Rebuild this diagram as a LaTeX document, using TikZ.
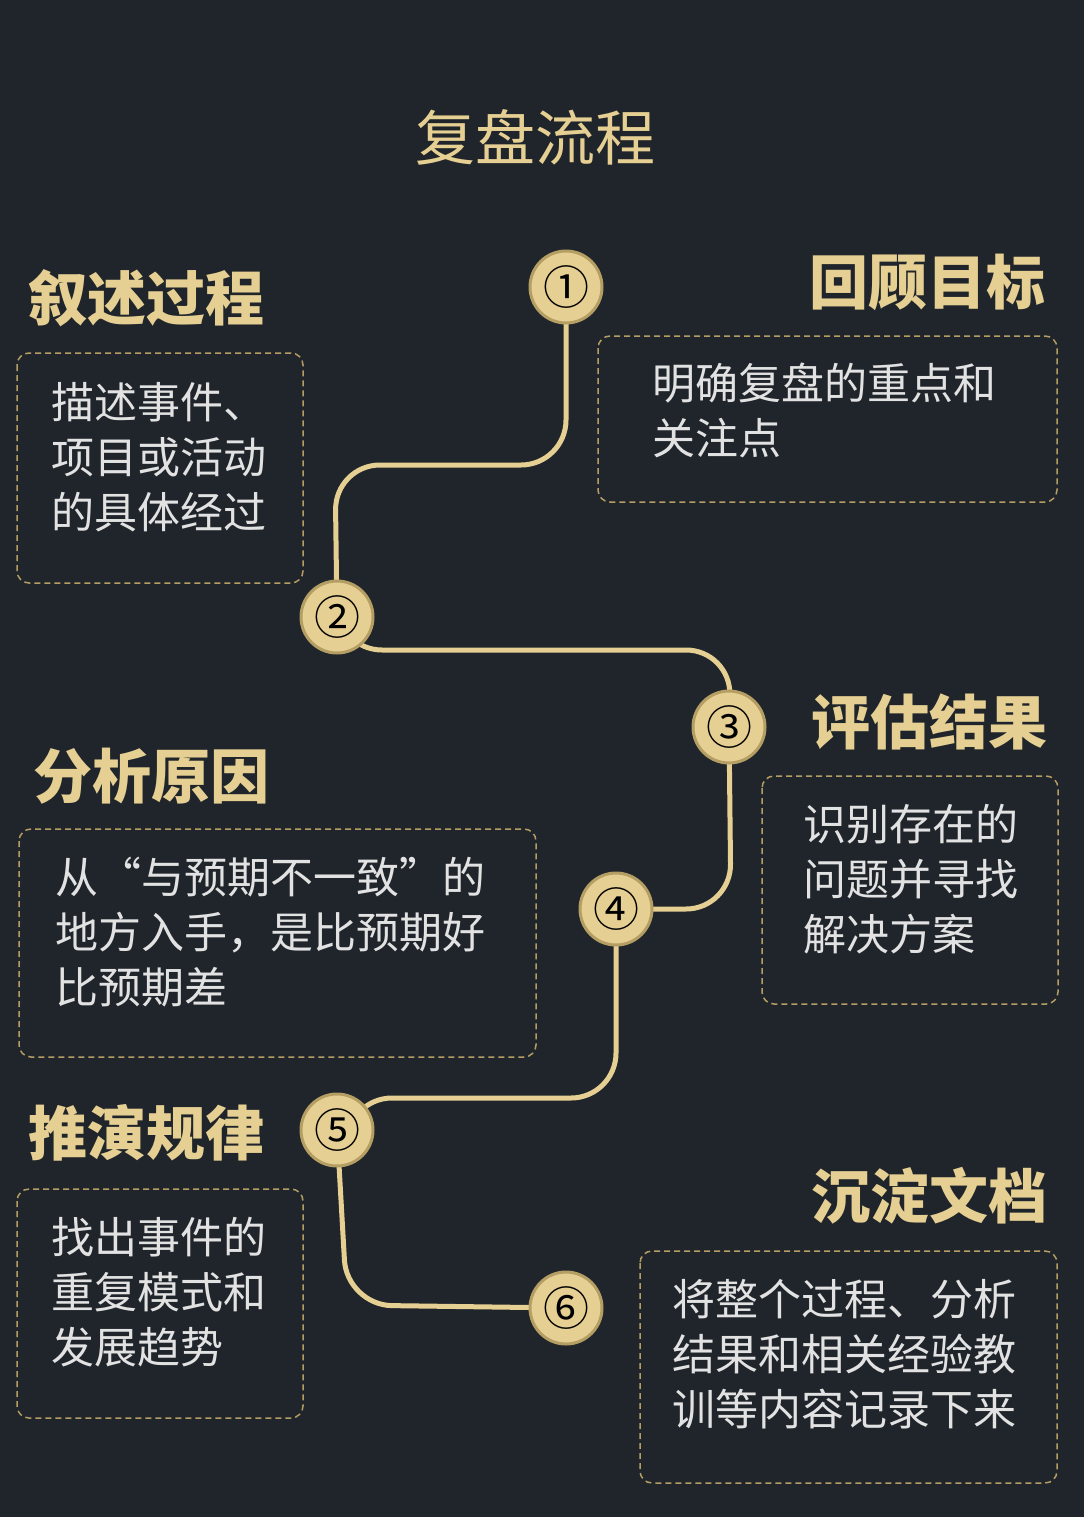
\documentclass[tikz,border=0pt]{standalone}
\usepackage{fontspec}
\setmainfont{Noto Sans CJK SC}
\definecolor{bg}{HTML}{1F252B}
\definecolor{gold}{HTML}{E6CF93}
\definecolor{golddk}{HTML}{B59E63}
\definecolor{txt}{HTML}{E2E2E2}
\tikzset{
 num/.style={circle,fill=gold,draw=golddk,line width=3pt,minimum size=72pt,inner sep=0pt,font=\fontsize{46}{46}\selectfont,text=black},
 head/.style={text=gold,font=\fontsize{59}{59}\selectfont\bfseries,inner sep=0pt},
 box/.style={draw=golddk,dash pattern=on 6pt off 4pt,line width=1.5pt,rounded corners=12pt},
 body/.style={text=txt,font=\fontsize{43}{55}\selectfont,align=left,anchor=north west,inner sep=0pt},
 path/.style={draw=gold,line width=5pt,rounded corners=45pt}
}
\begin{document}
\begin{tikzpicture}[x=1pt,y=-1pt]
\fill[bg] (0,0) rectangle (1084,1517);
\useasboundingbox (0,0) rectangle (1084,1517);
\node[text=gold,font=\fontsize{60}{60}\selectfont,inner sep=0pt] (title) at (535,137) {复盘流程};
\coordinate (p1) at (566,287);
\coordinate (p2) at (337,617);
\coordinate (p3) at (729,727);
\coordinate (p4) at (616,909);
\coordinate (p5) at (337,1130);
\coordinate (p6) at (566,1308);
\draw[path] (p1) -- (566,465) -- (335,465) -- (p2);
\draw[path] (p2) -- (337,650) -- (731,650) -- (p3);
\draw[path] (p3) -- (731,909) -- (p4);
\draw[path] (p4) -- (616,1098) -- (347,1098) -- (347,1130);
\draw[path] (p5) -- (347,1305) -- (p6);
\node[num] (n1) at (p1) {①};
\node[num] (n2) at (p2) {②};
\node[num] (n3) at (p3) {③};
\node[num] (n4) at (p4) {④};
\node[num] (n5) at (p5) {⑤};
\node[num] (n6) at (p6) {⑥};
\draw[box] (598,336) rectangle (1057,502);
\draw[box] (17,353) rectangle (303,583);
\draw[box] (762,776) rectangle (1058,1004);
\draw[box] (19,829) rectangle (536,1057);
\draw[box] (17,1189) rectangle (303,1418);
\draw[box] (640,1251) rectangle (1057,1483);
\node[head,anchor=east] (h1) at (1046,282) {回顾目标};
\node[head,anchor=west] (h2) at (28,298) {叙述过程};
\node[head,anchor=east] (h3) at (1048,722) {评估结果};
\node[head,anchor=west] (h4) at (33,776) {分析原因};
\node[head,anchor=west] (h5) at (28,1133) {推演规律};
\node[head,anchor=east] (h6) at (1048,1196) {沉淀文档};
\node[body] (b1) at (652,363) {明确复盘的重点和\\关注点};
\node[body] (b2) at (51,382) {描述事件、\\项目或活动\\的具体经过};
\node[body] (b3) at (803,804) {识别存在的\\问题并寻找\\解决方案};
\node[body] (b4) at (55,857) {从“与预期不一致”的\\地方入手，是比预期好\\比预期差};
\node[body] (b5) at (51,1217) {找出事件的\\重复模式和\\发展趋势};
\node[body] (b6) at (672,1279) {将整个过程、分析\\结果和相关经验教\\训等内容记录下来};
\end{tikzpicture}
\end{document}
